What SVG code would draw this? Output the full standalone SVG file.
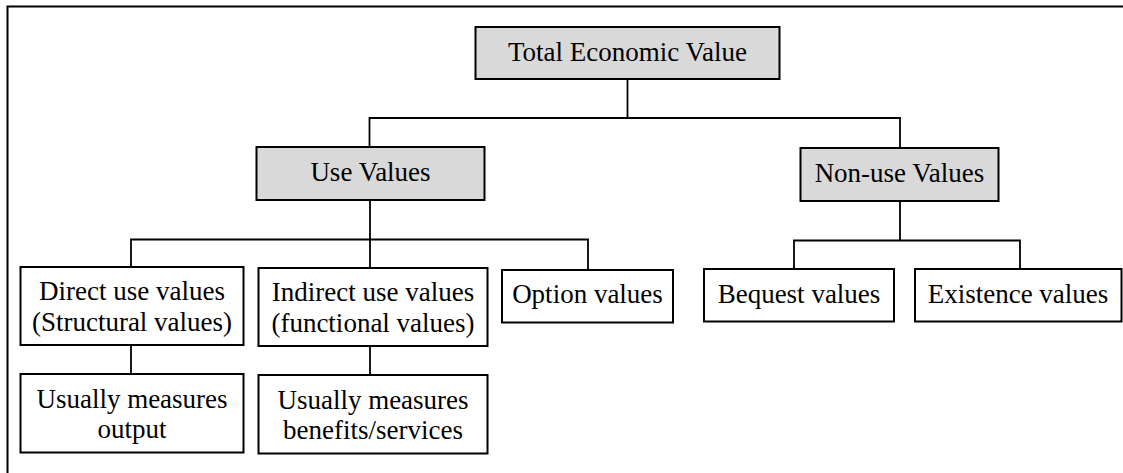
<svg xmlns="http://www.w3.org/2000/svg" width="1123" height="473" viewBox="0 0 1123 473">
<style>
.box{fill:#ffffff;stroke:#000;stroke-width:2}
.grey{fill:#d9d9d9}
.t{font-family:"Liberation Serif","Times New Roman",serif;font-size:27px;fill:#000;text-anchor:middle}
.c{fill:none;stroke:#000;stroke-width:1.8}
</style>
<rect width="1123" height="473" fill="#fff"/>
<path d="M7.5,473 V6.5 H1123" fill="none" stroke="#000" stroke-width="2"/>
<g id="connectors">
<path class="c" d="M627.5,79 V118 M369.5,147 V118 H900 V148"/>
<path class="c" d="M370,200 V239.5 M131,267 V239.5 H588 V270 M370,239.5 V268"/>
<path class="c" d="M900,201 V240.5 M794,269 V240.5 H1020 V269"/>
<path class="c" d="M131,345 V374 M370,346 V375"/>
</g>
<g id="tev"><rect class="box grey" x="475.5" y="27" width="304" height="52"/><text class="t" x="627.5" y="61">Total Economic Value</text></g>
<g id="use"><rect class="box grey" x="256.5" y="147" width="228" height="53"/><text class="t" x="370.5" y="181">Use Values</text></g>
<g id="nonuse"><rect class="box grey" x="800.5" y="148" width="198" height="53"/><text class="t" x="899.5" y="182">Non-use Values</text></g>
<g id="direct"><rect class="box" x="20.5" y="267" width="223" height="78"/><text class="t" x="132" y="300">Direct use values</text><text class="t" x="132" y="331">(Structural values)</text></g>
<g id="indirect"><rect class="box" x="258.5" y="268" width="229" height="78"/><text class="t" x="373" y="301">Indirect use values</text><text class="t" x="373" y="332">(functional values)</text></g>
<g id="option"><rect class="box" x="502" y="270" width="171" height="52.5"/><text class="t" x="587.5" y="303">Option values</text></g>
<g id="bequest"><rect class="box" x="704" y="269" width="190" height="52.5"/><text class="t" x="799" y="302.5">Bequest values</text></g>
<g id="existence"><rect class="box" x="915" y="269" width="206.5" height="52.5"/><text class="t" x="1018" y="302.5">Existence values</text></g>
<g id="measures-output"><rect class="box" x="20.5" y="374" width="223" height="78.5"/><text class="t" x="132" y="408">Usually measures</text><text class="t" x="132" y="438">output</text></g>
<g id="measures-benefits"><rect class="box" x="258.5" y="375" width="229" height="78.5"/><text class="t" x="373" y="409">Usually measures</text><text class="t" x="373" y="439">benefits/services</text></g>
</svg>
